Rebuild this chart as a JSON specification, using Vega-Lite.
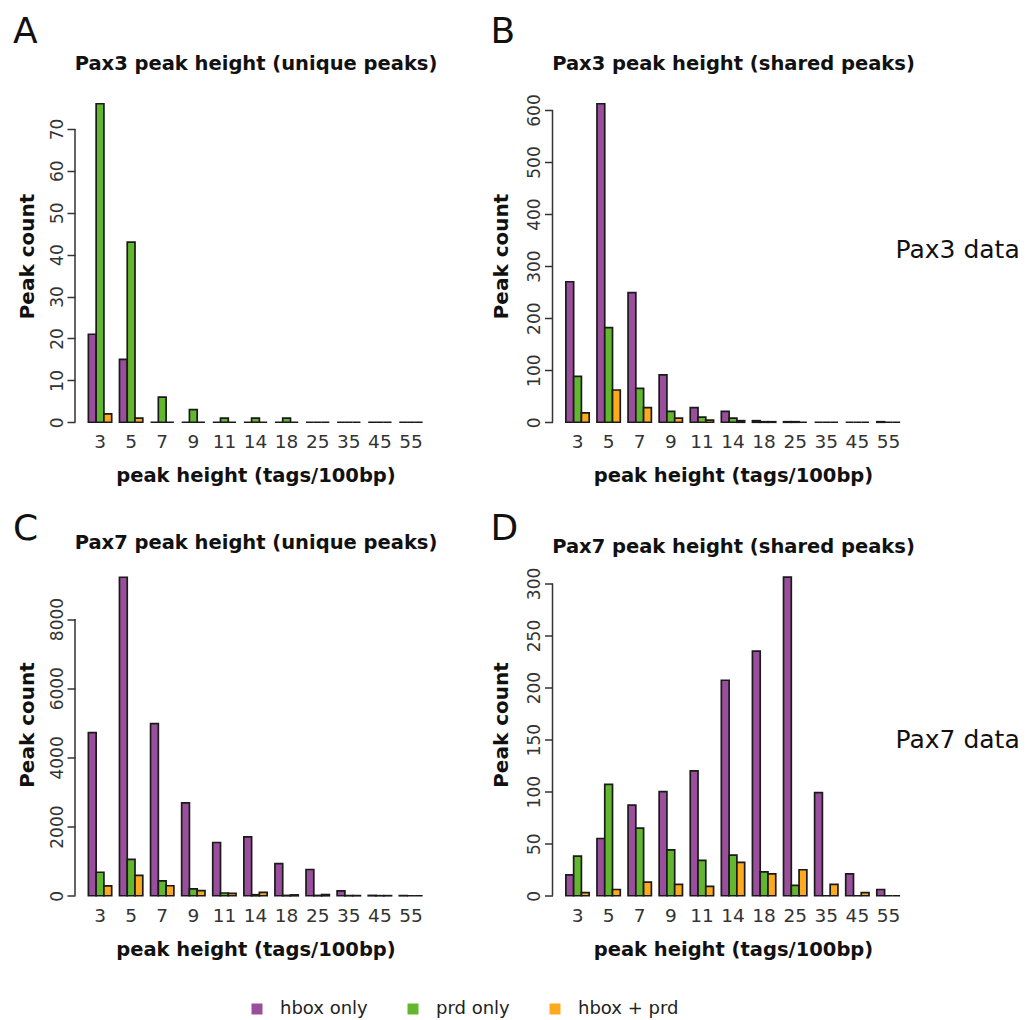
{
  "$schema": "https://vega.github.io/schema/vega-lite/v6.json",
  "background": "white",
  "padding": {"left": 13, "top": 14, "right": 0, "bottom": 0},
  "bounds": "flush",
  "columns": 2,
  "spacing": {"row": 129.5, "column": 116.5},
  "datasets": {
    "peaks": [
      {"panel": "A", "height": "3", "type": "hbox only", "count": 21},
      {"panel": "A", "height": "3", "type": "prd only", "count": 76},
      {"panel": "A", "height": "3", "type": "hbox + prd", "count": 2},
      {"panel": "A", "height": "5", "type": "hbox only", "count": 15},
      {"panel": "A", "height": "5", "type": "prd only", "count": 43},
      {"panel": "A", "height": "5", "type": "hbox + prd", "count": 1},
      {"panel": "A", "height": "7", "type": "hbox only", "count": 0},
      {"panel": "A", "height": "7", "type": "prd only", "count": 6},
      {"panel": "A", "height": "7", "type": "hbox + prd", "count": 0},
      {"panel": "A", "height": "9", "type": "hbox only", "count": 0},
      {"panel": "A", "height": "9", "type": "prd only", "count": 3},
      {"panel": "A", "height": "9", "type": "hbox + prd", "count": 0},
      {"panel": "A", "height": "11", "type": "hbox only", "count": 0},
      {"panel": "A", "height": "11", "type": "prd only", "count": 1},
      {"panel": "A", "height": "11", "type": "hbox + prd", "count": 0},
      {"panel": "A", "height": "14", "type": "hbox only", "count": 0},
      {"panel": "A", "height": "14", "type": "prd only", "count": 1},
      {"panel": "A", "height": "14", "type": "hbox + prd", "count": 0},
      {"panel": "A", "height": "18", "type": "hbox only", "count": 0},
      {"panel": "A", "height": "18", "type": "prd only", "count": 1},
      {"panel": "A", "height": "18", "type": "hbox + prd", "count": 0},
      {"panel": "A", "height": "25", "type": "hbox only", "count": 0},
      {"panel": "A", "height": "25", "type": "prd only", "count": 0},
      {"panel": "A", "height": "25", "type": "hbox + prd", "count": 0},
      {"panel": "A", "height": "35", "type": "hbox only", "count": 0},
      {"panel": "A", "height": "35", "type": "prd only", "count": 0},
      {"panel": "A", "height": "35", "type": "hbox + prd", "count": 0},
      {"panel": "A", "height": "45", "type": "hbox only", "count": 0},
      {"panel": "A", "height": "45", "type": "prd only", "count": 0},
      {"panel": "A", "height": "45", "type": "hbox + prd", "count": 0},
      {"panel": "A", "height": "55", "type": "hbox only", "count": 0},
      {"panel": "A", "height": "55", "type": "prd only", "count": 0},
      {"panel": "A", "height": "55", "type": "hbox + prd", "count": 0},

      {"panel": "B", "height": "3", "type": "hbox only", "count": 270},
      {"panel": "B", "height": "3", "type": "prd only", "count": 88},
      {"panel": "B", "height": "3", "type": "hbox + prd", "count": 18},
      {"panel": "B", "height": "5", "type": "hbox only", "count": 612},
      {"panel": "B", "height": "5", "type": "prd only", "count": 182},
      {"panel": "B", "height": "5", "type": "hbox + prd", "count": 62},
      {"panel": "B", "height": "7", "type": "hbox only", "count": 249},
      {"panel": "B", "height": "7", "type": "prd only", "count": 65},
      {"panel": "B", "height": "7", "type": "hbox + prd", "count": 28},
      {"panel": "B", "height": "9", "type": "hbox only", "count": 91},
      {"panel": "B", "height": "9", "type": "prd only", "count": 21},
      {"panel": "B", "height": "9", "type": "hbox + prd", "count": 8},
      {"panel": "B", "height": "11", "type": "hbox only", "count": 28},
      {"panel": "B", "height": "11", "type": "prd only", "count": 10},
      {"panel": "B", "height": "11", "type": "hbox + prd", "count": 4},
      {"panel": "B", "height": "14", "type": "hbox only", "count": 21},
      {"panel": "B", "height": "14", "type": "prd only", "count": 8},
      {"panel": "B", "height": "14", "type": "hbox + prd", "count": 3},
      {"panel": "B", "height": "18", "type": "hbox only", "count": 3},
      {"panel": "B", "height": "18", "type": "prd only", "count": 1},
      {"panel": "B", "height": "18", "type": "hbox + prd", "count": 1},
      {"panel": "B", "height": "25", "type": "hbox only", "count": 1},
      {"panel": "B", "height": "25", "type": "prd only", "count": 1},
      {"panel": "B", "height": "25", "type": "hbox + prd", "count": 0},
      {"panel": "B", "height": "35", "type": "hbox only", "count": 0},
      {"panel": "B", "height": "35", "type": "prd only", "count": 0},
      {"panel": "B", "height": "35", "type": "hbox + prd", "count": 0},
      {"panel": "B", "height": "45", "type": "hbox only", "count": 0},
      {"panel": "B", "height": "45", "type": "prd only", "count": 0},
      {"panel": "B", "height": "45", "type": "hbox + prd", "count": 0},
      {"panel": "B", "height": "55", "type": "hbox only", "count": 1},
      {"panel": "B", "height": "55", "type": "prd only", "count": 0},
      {"panel": "B", "height": "55", "type": "hbox + prd", "count": 0},

      {"panel": "C", "height": "3", "type": "hbox only", "count": 4715},
      {"panel": "C", "height": "3", "type": "prd only", "count": 680},
      {"panel": "C", "height": "3", "type": "hbox + prd", "count": 285},
      {"panel": "C", "height": "5", "type": "hbox only", "count": 9208},
      {"panel": "C", "height": "5", "type": "prd only", "count": 1050},
      {"panel": "C", "height": "5", "type": "hbox + prd", "count": 590},
      {"panel": "C", "height": "7", "type": "hbox only", "count": 4976},
      {"panel": "C", "height": "7", "type": "prd only", "count": 430},
      {"panel": "C", "height": "7", "type": "hbox + prd", "count": 290},
      {"panel": "C", "height": "9", "type": "hbox only", "count": 2686},
      {"panel": "C", "height": "9", "type": "prd only", "count": 200},
      {"panel": "C", "height": "9", "type": "hbox + prd", "count": 150},
      {"panel": "C", "height": "11", "type": "hbox only", "count": 1540},
      {"panel": "C", "height": "11", "type": "prd only", "count": 80},
      {"panel": "C", "height": "11", "type": "hbox + prd", "count": 70},
      {"panel": "C", "height": "14", "type": "hbox only", "count": 1700},
      {"panel": "C", "height": "14", "type": "prd only", "count": 30},
      {"panel": "C", "height": "14", "type": "hbox + prd", "count": 100},
      {"panel": "C", "height": "18", "type": "hbox only", "count": 930},
      {"panel": "C", "height": "18", "type": "prd only", "count": 10},
      {"panel": "C", "height": "18", "type": "hbox + prd", "count": 25},
      {"panel": "C", "height": "25", "type": "hbox only", "count": 760},
      {"panel": "C", "height": "25", "type": "prd only", "count": 10},
      {"panel": "C", "height": "25", "type": "hbox + prd", "count": 35},
      {"panel": "C", "height": "35", "type": "hbox only", "count": 140},
      {"panel": "C", "height": "35", "type": "prd only", "count": 5},
      {"panel": "C", "height": "35", "type": "hbox + prd", "count": 5},
      {"panel": "C", "height": "45", "type": "hbox only", "count": 10},
      {"panel": "C", "height": "45", "type": "prd only", "count": 3},
      {"panel": "C", "height": "45", "type": "hbox + prd", "count": 3},
      {"panel": "C", "height": "55", "type": "hbox only", "count": 5},
      {"panel": "C", "height": "55", "type": "prd only", "count": 0},
      {"panel": "C", "height": "55", "type": "hbox + prd", "count": 0},

      {"panel": "D", "height": "3", "type": "hbox only", "count": 20},
      {"panel": "D", "height": "3", "type": "prd only", "count": 38},
      {"panel": "D", "height": "3", "type": "hbox + prd", "count": 3},
      {"panel": "D", "height": "5", "type": "hbox only", "count": 55},
      {"panel": "D", "height": "5", "type": "prd only", "count": 107},
      {"panel": "D", "height": "5", "type": "hbox + prd", "count": 6},
      {"panel": "D", "height": "7", "type": "hbox only", "count": 87},
      {"panel": "D", "height": "7", "type": "prd only", "count": 65},
      {"panel": "D", "height": "7", "type": "hbox + prd", "count": 13},
      {"panel": "D", "height": "9", "type": "hbox only", "count": 100},
      {"panel": "D", "height": "9", "type": "prd only", "count": 44},
      {"panel": "D", "height": "9", "type": "hbox + prd", "count": 11},
      {"panel": "D", "height": "11", "type": "hbox only", "count": 120},
      {"panel": "D", "height": "11", "type": "prd only", "count": 34},
      {"panel": "D", "height": "11", "type": "hbox + prd", "count": 9},
      {"panel": "D", "height": "14", "type": "hbox only", "count": 207},
      {"panel": "D", "height": "14", "type": "prd only", "count": 39},
      {"panel": "D", "height": "14", "type": "hbox + prd", "count": 32},
      {"panel": "D", "height": "18", "type": "hbox only", "count": 235},
      {"panel": "D", "height": "18", "type": "prd only", "count": 23},
      {"panel": "D", "height": "18", "type": "hbox + prd", "count": 21},
      {"panel": "D", "height": "25", "type": "hbox only", "count": 306},
      {"panel": "D", "height": "25", "type": "prd only", "count": 10},
      {"panel": "D", "height": "25", "type": "hbox + prd", "count": 25},
      {"panel": "D", "height": "35", "type": "hbox only", "count": 99},
      {"panel": "D", "height": "35", "type": "prd only", "count": 0},
      {"panel": "D", "height": "35", "type": "hbox + prd", "count": 11},
      {"panel": "D", "height": "45", "type": "hbox only", "count": 21},
      {"panel": "D", "height": "45", "type": "prd only", "count": 0},
      {"panel": "D", "height": "45", "type": "hbox + prd", "count": 3},
      {"panel": "D", "height": "55", "type": "hbox only", "count": 6},
      {"panel": "D", "height": "55", "type": "prd only", "count": 0},
      {"panel": "D", "height": "55", "type": "hbox + prd", "count": 0}
    ]
  },
  "concat": [
    {
      "title": {"text": "A", "anchor": "start", "frame": "group", "dx": -62, "offset": -26, "baseline": "alphabetic", "fontSize": 36, "fontWeight": "normal"},
      "width": 361, "height": 344,
      "layer": [
        {
          "data": {"name": "peaks"},
          "transform": [{"filter": "datum.panel == 'A'"}],
          "mark": {"type": "bar", "stroke": "#1a1a1a", "strokeWidth": 1.7},
          "encoding": {
            "x": {"field": "height", "type": "nominal", "sort": null,
              "scale": {"domain": ["3","5","7","9","11","14","18","25","35","45","55"], "paddingInner": 0.25, "paddingOuter": 0.43},
              "axis": {"orient": "bottom", "title": "peak height (tags/100bp)", "titleY": 46.5}},
            "xOffset": {"field": "type", "type": "nominal", "scale": {"domain": ["hbox only", "prd only", "hbox + prd"], "paddingInner": 0, "paddingOuter": 0}},
            "y": {"field": "count", "type": "quantitative", "stack": null,
              "scale": {"domain": [-3.04, 79.04], "nice": false, "zero": false},
              "axis": {"values": [0,10,20,30,40,50,60,70], "format": "d", "title": "Peak count", "titleX": -42, "titleY": 165}},
            "color": {"field": "type", "type": "nominal", "title": null,
              "scale": {"domain": ["hbox only", "prd only", "hbox + prd"], "range": ["#9a4f9c", "#63b72f", "#fdaa1e"]}}
          }
        },
        {
          "data": {"values": [{"lo": 0, "hi": 70}]},
          "mark": {"type": "rule", "stroke": "#333333", "strokeWidth": 1.5},
          "encoding": {
            "x": {"datum": 0, "type": "quantitative", "scale": {"domain": [0, 1]},
              "axis": {"orient": "top", "domain": false, "ticks": false, "labels": false, "grid": false,
                "title": "Pax3 peak height (unique peaks)", "titleFontSize": 19.5, "titleFontWeight": "bold", "titleBaseline": "alphabetic", "titleY": -22}},
            "y": {"field": "lo", "type": "quantitative", "scale": {"domain": [-3.04, 79.04], "nice": false, "zero": false}, "axis": null},
            "y2": {"field": "hi"}
          }
        }
      ],
      "resolve": {"scale": {"x": "independent"}, "axis": {"y": "independent", "x": "independent"}}
    },
    {
      "title": {"text": "B", "anchor": "start", "frame": "group", "dx": -62, "offset": -26, "baseline": "alphabetic", "fontSize": 36, "fontWeight": "normal"},
      "width": 361, "height": 344,
      "layer": [
        {
          "data": {"name": "peaks"},
          "transform": [{"filter": "datum.panel == 'B'"}],
          "mark": {"type": "bar", "stroke": "#1a1a1a", "strokeWidth": 1.7},
          "encoding": {
            "x": {"field": "height", "type": "nominal", "sort": null,
              "scale": {"domain": ["3","5","7","9","11","14","18","25","35","45","55"], "paddingInner": 0.25, "paddingOuter": 0.43},
              "axis": {"orient": "bottom", "title": "peak height (tags/100bp)", "titleY": 46.5}},
            "xOffset": {"field": "type", "type": "nominal", "scale": {"domain": ["hbox only", "prd only", "hbox + prd"], "paddingInner": 0, "paddingOuter": 0}},
            "y": {"field": "count", "type": "quantitative", "stack": null,
              "scale": {"domain": [-24.5, 636.5], "nice": false, "zero": false},
              "axis": {"values": [0,100,200,300,400,500,600], "format": "d", "title": "Peak count", "titleX": -45.5, "titleY": 165}},
            "color": {"field": "type", "type": "nominal", "title": null,
              "scale": {"domain": ["hbox only", "prd only", "hbox + prd"], "range": ["#9a4f9c", "#63b72f", "#fdaa1e"]}}
          }
        },
        {
          "data": {"values": [{"lo": 0, "hi": 600}]},
          "mark": {"type": "rule", "stroke": "#333333", "strokeWidth": 1.5},
          "encoding": {
            "x": {"datum": 0, "type": "quantitative", "scale": {"domain": [0, 1]},
              "axis": {"orient": "top", "domain": false, "ticks": false, "labels": false, "grid": false,
                "title": "Pax3 peak height (shared peaks)", "titleFontSize": 19.5, "titleFontWeight": "bold", "titleBaseline": "alphabetic", "titleY": -22}},
            "y": {"field": "lo", "type": "quantitative", "scale": {"domain": [-24.5, 636.5], "nice": false, "zero": false},
              "axis": {"orient": "right", "domain": false, "ticks": false, "labels": false, "grid": false,
                "title": "Pax3 data", "titleAngle": 0, "titleFontSize": 25, "titleFontWeight": "normal", "titleAlign": "left", "titleBaseline": "alphabetic", "titleX": -18.5, "titleY": 166}},
            "y2": {"field": "hi"}
          }
        }
      ],
      "resolve": {"scale": {"x": "independent"}, "axis": {"y": "independent", "x": "independent"}}
    },
    {
      "title": {"text": "C", "anchor": "start", "frame": "group", "dx": -62, "offset": -44, "baseline": "alphabetic", "fontSize": 36, "fontWeight": "normal"},
      "width": 361, "height": 344,
      "layer": [
        {
          "data": {"name": "peaks"},
          "transform": [{"filter": "datum.panel == 'C'"}],
          "mark": {"type": "bar", "stroke": "#1a1a1a", "strokeWidth": 1.7},
          "encoding": {
            "x": {"field": "height", "type": "nominal", "sort": null,
              "scale": {"domain": ["3","5","7","9","11","14","18","25","35","45","55"], "paddingInner": 0.25, "paddingOuter": 0.43},
              "axis": {"orient": "bottom", "title": "peak height (tags/100bp)", "titleY": 46.5}},
            "xOffset": {"field": "type", "type": "nominal", "scale": {"domain": ["hbox only", "prd only", "hbox + prd"], "paddingInner": 0, "paddingOuter": 0}},
            "y": {"field": "count", "type": "quantitative", "stack": null,
              "scale": {"domain": [-368, 9576], "nice": false, "zero": false},
              "axis": {"values": [0,2000,4000,6000,8000], "format": "d", "title": "Peak count", "titleX": -42, "titleY": 160}},
            "color": {"field": "type", "type": "nominal", "title": null,
              "scale": {"domain": ["hbox only", "prd only", "hbox + prd"], "range": ["#9a4f9c", "#63b72f", "#fdaa1e"]}}
          }
        },
        {
          "data": {"values": [{"lo": 0, "hi": 8000}]},
          "mark": {"type": "rule", "stroke": "#333333", "strokeWidth": 1.5},
          "encoding": {
            "x": {"datum": 0, "type": "quantitative", "scale": {"domain": [0, 1]},
              "axis": {"orient": "top", "domain": false, "ticks": false, "labels": false, "grid": false,
                "title": "Pax7 peak height (unique peaks)", "titleFontSize": 19.5, "titleFontWeight": "bold", "titleBaseline": "alphabetic", "titleY": -16.5}},
            "y": {"field": "lo", "type": "quantitative", "scale": {"domain": [-368, 9576], "nice": false, "zero": false}, "axis": null},
            "y2": {"field": "hi"}
          }
        }
      ],
      "resolve": {"scale": {"x": "independent"}, "axis": {"y": "independent", "x": "independent"}}
    },
    {
      "title": {"text": "D", "anchor": "start", "frame": "group", "dx": -62, "offset": -40, "baseline": "alphabetic", "fontSize": 36, "fontWeight": "normal"},
      "width": 361, "height": 344,
      "layer": [
        {
          "data": {"name": "peaks"},
          "transform": [{"filter": "datum.panel == 'D'"}],
          "mark": {"type": "bar", "stroke": "#1a1a1a", "strokeWidth": 1.7},
          "encoding": {
            "x": {"field": "height", "type": "nominal", "sort": null,
              "scale": {"domain": ["3","5","7","9","11","14","18","25","35","45","55"], "paddingInner": 0.25, "paddingOuter": 0.43},
              "axis": {"orient": "bottom", "title": "peak height (tags/100bp)", "titleY": 46.5}},
            "xOffset": {"field": "type", "type": "nominal", "scale": {"domain": ["hbox only", "prd only", "hbox + prd"], "paddingInner": 0, "paddingOuter": 0}},
            "y": {"field": "count", "type": "quantitative", "stack": null,
              "scale": {"domain": [-12.24, 318.2], "nice": false, "zero": false},
              "axis": {"values": [0,50,100,150,200,250,300], "format": "d", "title": "Peak count", "titleX": -45.5, "titleY": 160}},
            "color": {"field": "type", "type": "nominal", "title": null,
              "scale": {"domain": ["hbox only", "prd only", "hbox + prd"], "range": ["#9a4f9c", "#63b72f", "#fdaa1e"]}}
          }
        },
        {
          "data": {"values": [{"lo": 0, "hi": 300}]},
          "mark": {"type": "rule", "stroke": "#333333", "strokeWidth": 1.5},
          "encoding": {
            "x": {"datum": 0, "type": "quantitative", "scale": {"domain": [0, 1]},
              "axis": {"orient": "top", "domain": false, "ticks": false, "labels": false, "grid": false,
                "title": "Pax7 peak height (shared peaks)", "titleFontSize": 19.5, "titleFontWeight": "bold", "titleBaseline": "alphabetic", "titleY": -12.5}},
            "y": {"field": "lo", "type": "quantitative", "scale": {"domain": [-12.24, 318.2], "nice": false, "zero": false},
              "axis": {"orient": "right", "domain": false, "ticks": false, "labels": false, "grid": false,
                "title": "Pax7 data", "titleAngle": 0, "titleFontSize": 25, "titleFontWeight": "normal", "titleAlign": "left", "titleBaseline": "alphabetic", "titleX": -18.5, "titleY": 183}},
            "y2": {"field": "hi"}
          }
        }
      ],
      "resolve": {"scale": {"x": "independent"}, "axis": {"y": "independent", "x": "independent"}}
    }
  ],
  "resolve": {"scale": {"color": "shared"}, "legend": {"color": "shared"}},
  "config": {
    "font": "DejaVu Sans",
    "view": {"stroke": null},
    "title": {"font": "DejaVu Sans", "color": "#111111"},
    "axis": {
      "labelFont": "DejaVu Sans", "titleFont": "DejaVu Sans",
      "labelColor": "#333333", "titleColor": "#111111",
      "grid": false, "tickColor": "#333333", "domainColor": "#333333",
      "labelFlush": false, "labelOverlap": false, "labelBound": false
    },
    "axisBottom": {
      "domain": false, "ticks": false, "tickSize": 0, "labelAngle": 0,
      "labelFontSize": 18.5, "labelPadding": 12.5, "labelBaseline": "alphabetic",
      "titleFontSize": 19.5, "titleFontWeight": "bold", "titleBaseline": "alphabetic"
    },
    "axisLeft": {
      "domain": false, "ticks": true, "tickSize": 8, "tickWidth": 1.5,
      "labelAngle": 270, "labelAlign": "center", "labelBaseline": "alphabetic", "labelPadding": 5, "labelFontSize": 17,
      "titleFontSize": 20, "titleFontWeight": "bold", "titleAngle": 270, "titleAlign": "center", "titleBaseline": "alphabetic"
    },
    "legend": {
      "orient": "none", "direction": "horizontal", "legendX": 173, "legendY": 909,
      "symbolType": "square", "symbolSize": 121, "symbolStrokeWidth": 0, "symbolStrokeColor": "transparent",
      "labelFont": "DejaVu Sans", "labelFontSize": 18, "labelColor": "#222222",
      "columnPadding": 36, "labelOffset": 14, "padding": 0
    }
  }
}
